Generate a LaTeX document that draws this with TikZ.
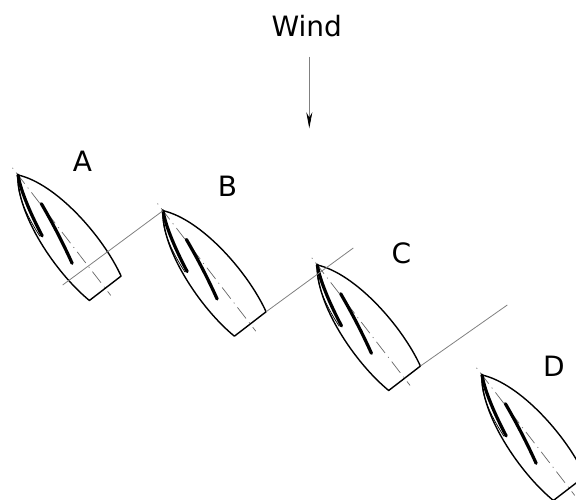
\documentclass[tikz,border=0pt]{standalone}
\usepackage{fontspec}
\setsansfont{DejaVu Sans}
\usepackage{tikz}
\usetikzlibrary{arrows.meta}
\tikzset{every picture/.style={x=1pt,y=1pt},
  hull/.style={draw=black, line width=1.4pt, line join=round},
  sail/.style={draw=black, line width=3.2pt, line cap=round},
  centre/.style={draw=black!60, line width=0.7pt, dash pattern=on 1pt off 5pt on 14pt off 5pt},
  guide/.style={draw=black!50, line width=0.8pt},
  lbl/.style={anchor=base, inner sep=0pt, font=\sffamily\fontsize{28}{30}\selectfont}}

\begin{document}
\begin{tikzpicture}
        \useasboundingbox (0,0) rectangle (576,500);

        \node[lbl] (wind) at (306.7,463.3) {Wind};
        \node[lbl] (labA) at (82.5,328.3) {A};
        \node[lbl] (labB) at (227.5,303.3) {B};
        \node[lbl] (labC) at (401.3,236) {C};
        \node[lbl] (labD) at (554,123.3) {D};

        \foreach \n/\bx/\by in {A/18/325, B/163/289.3, C/317.3/235, D/482/125} {
          \begin{scope}[shift={(\bx,\by)}, rotate=-52.4]
            \draw[centre] (-9,0) -- (152,0);
            \draw[hull] (0,0) .. controls (30,25) and (100,30) .. (143,20) -- (143,-20)
              .. controls (100,-30) and (30,-25) .. (0,0);
            \draw[sail] (0,0) .. controls (15,-8) and (40,-14) .. (63,-18);
            \draw[line width=0.7pt] (0,0) .. controls (12,-12) and (36,-18) .. (62,-20);
            \draw[sail] (37,1) .. controls (60,-2) and (82,-6) .. (103,-11);
            \coordinate (bow\n) at (0,0);
            \coordinate (port\n) at (143,-20);
            \coordinate (stbd\n) at (143,20);
          \end{scope}
        }

        \coordinate (farA) at (62.7,215);
        \coordinate (farB) at (353.3,252);
        \coordinate (farC) at (507.3,195);
        \coordinate (windtail) at (309.3,443.3);
        \coordinate (windtip) at (309.3,371.7);

        \draw[guide] (farA) -- (bowB);
        \draw[guide] (stbdB) -- (farB);
        \draw[guide] (stbdC) -- (farC);
        \draw[guide, -{Stealth[length=16pt, width=6pt, black]}] (windtail) -- (windtip);
      \end{tikzpicture}
\end{document}
